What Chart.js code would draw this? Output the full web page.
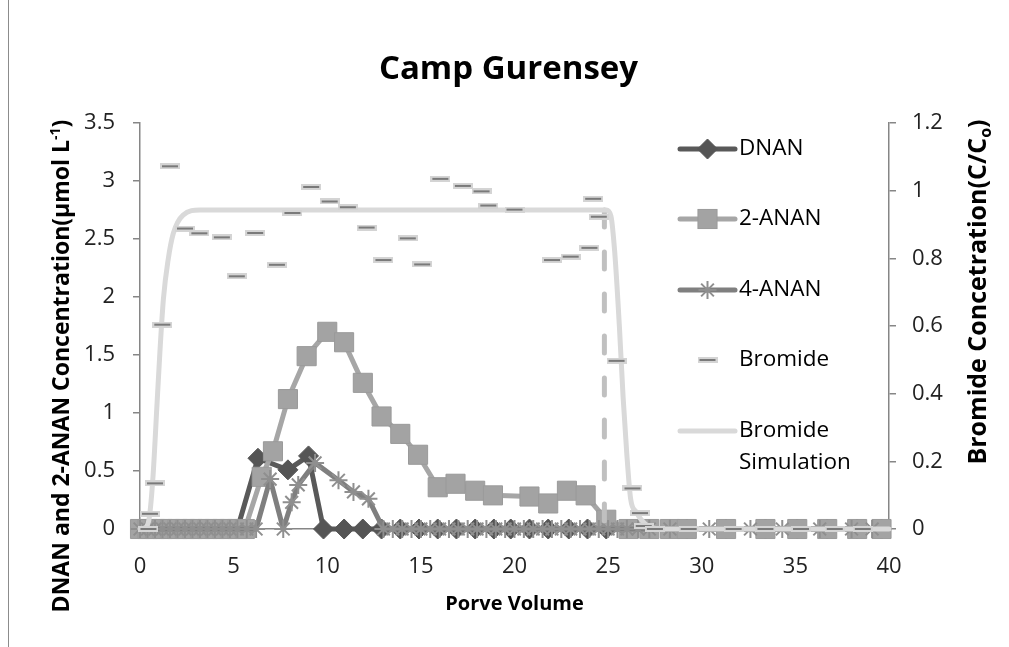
<!DOCTYPE html>
<html><head><meta charset="utf-8">
<script src="https://cdn.jsdelivr.net/npm/chart.js@4/dist/chart.umd.min.js"></script>
<style>
html,body{margin:0;padding:0;background:#fff;}
#wrap{position:relative;width:1009px;height:647px;overflow:hidden;}
#frame{position:absolute;left:8px;top:0;width:0;height:647px;border-left:1px solid #8c8c8c;}
canvas{position:absolute;left:0;top:0;}
</style></head><body>
<div id="wrap"><canvas id="c" width="1009" height="647"></canvas><div id="frame"></div></div>
<script>
// ---- tick labels ----
const xTickVals = [0, 5, 10, 15, 20, 25, 30, 35, 40];
const leftTickVals = [0, 0.5, 1, 1.5, 2, 2.5, 3, 3.5];
const rightTickVals = [0, 0.2, 0.4, 0.6, 0.8, 1, 1.2];

// ---- DNAN (µmol/L) ----
const dnanPV = [0,0.4,0.8,1.2,1.6,2.0,2.4,2.8,3.2,3.6,4.0,4.4,4.8,5.2,6.3,7.9,9.0,9.8,10.9,11.9,12.9,13.9,14.9,15.9,16.9,17.9,18.9,19.8,20.8,21.8,22.9,23.9,24.9,26.0,27.2,28.3,29.2,31.3,33.4,35.1,36.7,38.3,39.6];
const dnanConc = [0,0,0,0,0,0,0,0,0,0,0,0,0,0,0.61,0.51,0.63,0,0,0,0,0,0,0,0,0,0,0,0,0,0,0,0,0,0,0,0,0,0,0,0,0,0];

// ---- 2-ANAN (µmol/L) ----
const anan2PV = [0,0.4,0.8,1.2,1.6,2.0,2.4,2.8,3.2,3.6,4.0,4.4,4.8,5.2,5.6,6.5,7.1,7.9,8.9,10.0,10.9,11.9,12.9,13.9,14.85,15.9,16.85,17.9,18.85,20.8,21.8,22.8,23.8,24.9,26.1,27.2,28.3,29.2,31.3,33.4,35.1,36.7,38.3,39.6];
const anan2Conc = [0,0,0,0,0,0,0,0,0,0,0,0,0,0,0,0.45,0.67,1.12,1.49,1.70,1.61,1.26,0.97,0.82,0.64,0.36,0.39,0.33,0.29,0.28,0.22,0.33,0.29,0.08,0,0,0,0,0,0,0,0,0,0];

// ---- 4-ANAN (µmol/L) ----
const anan4PV = [0,0.4,0.8,1.2,1.6,2.0,2.4,2.8,3.2,3.6,4.0,4.4,4.8,5.2,5.7,6.2,6.95,7.65,8.1,8.45,9.35,10.6,11.4,12.2,13.0,13.5,14.0,14.5,15.0,15.5,16.0,16.5,17.0,17.5,18.0,18.5,19.0,19.5,20.0,20.5,21.0,21.5,22.0,22.5,23.0,23.5,24.0,24.5,25.0,25.5,26.0,26.6,27.2,28.3,30.4,32.6,34.3,36.3,38.0,39.1];
const anan4Conc = [0,0,0,0,0,0,0,0,0,0,0,0,0,0,0,0,0.43,0,0.23,0.38,0.57,0.42,0.32,0.26,0,0,0,0,0,0,0,0,0,0,0,0,0,0,0,0,0,0,0,0,0,0,0,0,0,0,0,0,0,0,0,0,0,0,0,0];

// ---- Bromide observed (C/Co) ----
const bromPV = [0.45,0.53,0.8,1.19,1.6,2.4,3.17,4.37,5.17,6.15,7.31,8.14,9.14,10.13,11.1,12.1,13.0,14.3,15.07,16.04,17.24,18.24,18.6,20.0,22.0,23.0,24.0,24.2,24.5,25.45,26.3,26.7,26.9,27.5,29.3,31.7,33.4,35.3,37.1,38.6];
const bromCC = [0,0.045,0.135,0.604,1.072,0.888,0.874,0.862,0.747,0.875,0.781,0.934,1.011,0.968,0.951,0.891,0.795,0.859,0.782,1.035,1.014,0.998,0.956,0.944,0.795,0.805,0.831,0.976,0.923,0.497,0.12,0.047,0.009,0,0,0,0,0,0,0];

// ---- Bromide simulation (C/Co) ----
const simPV = [0,0.3,0.5,0.7,0.9,1.07,1.25,1.5,1.78,2.3,3.2,5,10,15,20,24.9,25.15,25.35,25.6,25.8,26.0,26.2,26.5,27.05,28,30,35,40];
const simCC = [0,0.004,0.035,0.16,0.36,0.53,0.68,0.795,0.874,0.928,0.943,0.943,0.943,0.943,0.943,0.943,0.925,0.82,0.6,0.39,0.22,0.09,0.05,0.012,0,0,0,0];

// ---- pulse end marker (vertical dashed line) ----
const pulsePV = [24.8, 24.8];
const pulseCC = [0.943, 0];

const zip = (xs, ys) => xs.map((x, i) => ({x: x, y: ys[i]}));

function makeDash() {
  const c = document.createElement('canvas');
  c.width = 20; c.height = 6;
  const g = c.getContext('2d');
  g.fillStyle = '#d4d4d4';
  g.fillRect(0, 0, 20, 6);
  g.fillStyle = '#7a7a7a';
  g.fillRect(2, 2, 16, 2);
  return c;
}
const dashImg = makeDash();

const FONT = "'Open Sans', 'DejaVu Sans', sans-serif";

const legendItems = [
  {ds: 0, y: 149, text: ['DNAN']},
  {ds: 1, y: 219, text: ['2-ANAN']},
  {ds: 2, y: 290, text: ['4-ANAN']},
  {ds: 3, y: 360, text: ['Bromide']},
  {ds: 4, y: 431, text: ['Bromide', 'Simulation']}
];

function drawMarker(ctx, ds, x, y) {
  const st = ds.pointStyle, r = ds.pointRadius;
  ctx.save();
  ctx.fillStyle = ds.pointBackgroundColor;
  ctx.strokeStyle = ds.pointBorderColor;
  ctx.lineWidth = ds.pointBorderWidth;
  if (st === 'rectRot') {
    ctx.beginPath();
    ctx.moveTo(x, y - r); ctx.lineTo(x + r, y); ctx.lineTo(x, y + r); ctx.lineTo(x - r, y); ctx.closePath();
    ctx.fill(); ctx.stroke();
  } else if (st === 'rect') {
    const s = r * Math.SQRT1_2;
    ctx.fillRect(x - s, y - s, 2 * s, 2 * s);
    ctx.strokeRect(x - s, y - s, 2 * s, 2 * s);
  } else if (st === 'star') {
    ctx.beginPath();
    for (let k = 0; k < 4; k++) {
      const a = k * Math.PI / 4;
      ctx.moveTo(x - Math.cos(a) * r, y - Math.sin(a) * r);
      ctx.lineTo(x + Math.cos(a) * r, y + Math.sin(a) * r);
    }
    ctx.stroke();
  } else if (st && st.getContext) {
    ctx.drawImage(st, x - st.width / 2, y - st.height / 2);
  }
  ctx.restore();
}

function drawRotated(ctx, parts, cx, cy) {
  ctx.save();
  ctx.translate(cx, cy);
  ctx.rotate(-Math.PI / 2);
  let total = 0;
  parts.forEach(p => { ctx.font = 'bold ' + p.size + 'px ' + FONT; p.w = ctx.measureText(p.t).width; total += p.w; });
  let x = -total / 2;
  const base = parts[0].size * 0.36;
  ctx.fillStyle = '#000';
  ctx.textAlign = 'left';
  ctx.textBaseline = 'alphabetic';
  parts.forEach(p => { ctx.font = 'bold ' + p.size + 'px ' + FONT; ctx.fillText(p.t, x, base + (p.dy || 0)); x += p.w; });
  ctx.restore();
}

const legendPlugin = {
  id: 'sideLegend',
  afterDraw(chart) {
    const ctx = chart.ctx;
    const x0 = 680, x1 = 735, tx = 739;
    ctx.save();
    legendItems.forEach(it => {
      const ds = chart.data.datasets[it.ds];
      if (ds.showLine !== false) {
        ctx.save();
        ctx.strokeStyle = ds.borderColor;
        ctx.lineWidth = ds.borderWidth;
        ctx.lineCap = 'round';
        ctx.beginPath(); ctx.moveTo(x0, it.y); ctx.lineTo(x1, it.y); ctx.stroke();
        ctx.restore();
      }
      if (ds.pointRadius > 0) drawMarker(ctx, ds, (x0 + x1) / 2, it.y);
      ctx.fillStyle = '#000';
      ctx.font = '22.5px ' + FONT;
      ctx.textAlign = 'left';
      ctx.textBaseline = 'middle';
      it.text.forEach((t, k) => ctx.fillText(t, tx, it.y + k * 32));
    });
    // axis titles (read bottom-to-top, with super/subscripts)
    drawRotated(ctx, [
      {t: 'DNAN and 2-ANAN Concentration(\u03bcmol L', size: 23},
      {t: '-1', size: 14, dy: -9},
      {t: ')', size: 23}
    ], 61, 366);
    drawRotated(ctx, [
      {t: 'Bromide Concetration(C/C', size: 25},
      {t: 'o', size: 16, dy: 5},
      {t: ')', size: 25}
    ], 977, 292);
    ctx.restore();
  }
};

const axisGrey = '#868686';
const tickFont = {family: FONT, size: 22};
const fmt = v => String(v);

new Chart(document.getElementById('c'), {
  type: 'scatter',
  data: {
    datasets: [
      {label: 'DNAN', data: zip(dnanPV, dnanConc), yAxisID: 'y', showLine: true, clip: false,
       borderColor: '#595959', borderWidth: 5, pointStyle: 'rectRot', pointRadius: 10,
       pointBackgroundColor: '#555555', pointBorderColor: '#555555', pointBorderWidth: 1, order: 5},
      {label: '2-ANAN', data: zip(anan2PV, anan2Conc), yAxisID: 'y', showLine: true, clip: false,
       borderColor: '#a6a6a6', borderWidth: 5, pointStyle: 'rect', pointRadius: 13.5,
       pointBackgroundColor: '#a3a3a3', pointBorderColor: '#9a9a9a', pointBorderWidth: 1, order: 4},
      {label: '4-ANAN', data: zip(anan4PV, anan4Conc), yAxisID: 'y', showLine: true, clip: false,
       borderColor: '#7f7f7f', borderWidth: 5, pointStyle: 'star', pointRadius: 9,
       pointBackgroundColor: '#8f8f8f', pointBorderColor: '#8f8f8f', pointBorderWidth: 2, order: 3},
      {label: 'Bromide', data: zip(bromPV, bromCC), yAxisID: 'y1', showLine: false, clip: false,
       borderColor: '#7a7a7a', borderWidth: 0, pointStyle: dashImg, pointRadius: 10,
       pointBackgroundColor: '#7a7a7a', pointBorderColor: '#7a7a7a', pointBorderWidth: 0, order: 0},
      {label: 'Bromide Simulation', data: zip(simPV, simCC), yAxisID: 'y1', showLine: true, clip: false,
       borderColor: '#d9d9d9', borderWidth: 5, pointRadius: 0, cubicInterpolationMode: 'monotone',
       borderCapStyle: 'round', borderJoinStyle: 'round', order: 1},
      {label: 'pulse', data: zip(pulsePV, pulseCC), yAxisID: 'y1', showLine: true, clip: false,
       borderColor: '#c0c0c0', borderWidth: 5, pointRadius: 0, borderDash: [17, 25],
       borderCapStyle: 'round', order: 2}
    ]
  },
  options: {
    responsive: false,
    animation: false,
    devicePixelRatio: 1,
    layout: {padding: {left: 15, right: 7, top: 0, bottom: 27}},
    elements: {line: {borderCapStyle: 'round', borderJoinStyle: 'round', tension: 0}},
    plugins: {
      legend: {display: false},
      tooltip: {enabled: false},
      title: {display: true, text: 'Camp Gurensey', color: '#000',
              font: {family: FONT, size: 33, weight: 'bold'},
              padding: {top: 50.2, bottom: 33.2}}
    },
    scales: {
      x: {
        type: 'linear', min: 0, max: 40, position: 'bottom',
        afterBuildTicks: s => { s.ticks = xTickVals.map(v => ({value: v})); },
        afterFit: s => { s.height = 91; },
        grid: {display: true, drawOnChartArea: false, drawTicks: false},
        border: {display: true, color: axisGrey, width: 1.5},
        ticks: {color: '#222', font: tickFont, padding: 25, maxRotation: 0, callback: fmt},
        title: {display: true, text: 'Porve Volume', color: '#000', font: {family: FONT, size: 20, weight: 'bold'}}
      },
      y: {
        type: 'linear', min: 0, max: 3.5, position: 'left',
        afterBuildTicks: s => { s.ticks = leftTickVals.map(v => ({value: v})); },
        afterFit: s => { s.width = 125; },
        grid: {display: true, drawOnChartArea: false, drawTicks: true, tickLength: 7, color: axisGrey, lineWidth: 1.5},
        border: {display: true, color: axisGrey, width: 1.5},
        ticks: {color: '#222', font: tickFont, padding: 18, callback: fmt},
        title: {display: false}
      },
      y1: {
        type: 'linear', min: 0, max: 1.2, position: 'right',
        afterBuildTicks: s => { s.ticks = rightTickVals.map(v => ({value: v})); },
        afterFit: s => { s.width = 113; },
        grid: {display: true, drawOnChartArea: false, drawTicks: true, tickLength: 7, color: axisGrey, lineWidth: 1.5},
        border: {display: true, color: axisGrey, width: 1.5},
        ticks: {color: '#222', font: tickFont, padding: 16, callback: fmt},
        title: {display: false}
      }
    }
  },
  plugins: [legendPlugin]
});
</script>
</body></html>
